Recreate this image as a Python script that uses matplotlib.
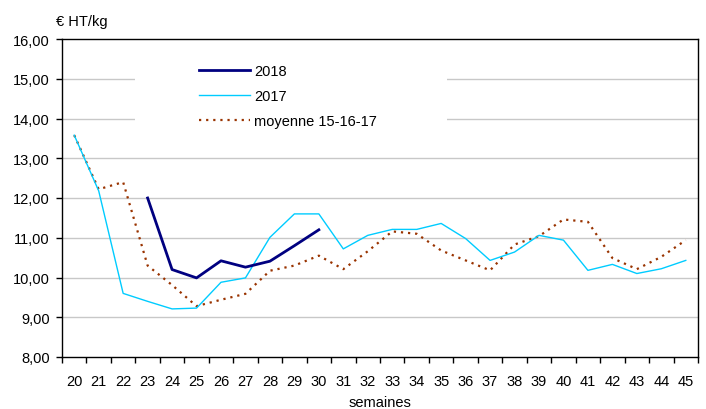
import matplotlib
matplotlib.use("Agg")
import matplotlib.pyplot as plt
import numpy as np
from matplotlib.patches import Rectangle

plt.rcParams["font.family"] = "Liberation Sans"
plt.rcParams["font.size"] = 10

# ------------------------------------------------------------
# DONNÉES
# ------------------------------------------------------------

semaines = list(range(20, 46))

prix_2017 = [13.58, 12.18, 9.60, 9.40, 9.21, 9.23, 9.88, 9.99, 11.01, 11.60,
             11.60, 10.72, 11.06, 11.21, 11.21, 11.36, 10.98, 10.43, 10.64, 11.06,
             10.94, 10.18, 10.33, 10.10, 10.22, 10.43]

moyenne_15_16_17 = [13.58, 12.22, 12.40, 10.30, 9.81, 9.28, 9.44, 9.59, 10.17, 10.30,
                    10.55, 10.21, 10.66, 11.16, 11.10, 10.68, 10.43, 10.18, 10.83, 11.04,
                    11.46, 11.40, 10.49, 10.21, 10.52, 10.94]

semaines_2018 = list(range(23, 31))
prix_2018 = [12.00, 10.20, 9.99, 10.42, 10.26, 10.41, 10.80, 11.20]

y_ticks = [8, 9, 10, 11, 12, 13, 14, 15, 16]

COLOR_2018 = "#000080"
COLOR_2017 = "#00CCFF"
COLOR_MOY = "#993300"

# ------------------------------------------------------------
# FIGURE
# ------------------------------------------------------------

fig = plt.figure(figsize=(7.06, 4.10), dpi=100)
ax = fig.add_axes([62 / 706, 1 - 358 / 410, 636 / 706, 318 / 410])

ax.set_xlim(19.5, 45.5)
ax.set_ylim(8, 16)

# grille horizontale
for v in y_ticks[1:-1]:
    ax.axhline(v, color="#C8C8C8", linewidth=1.0, zorder=0.5)

# fond blanc de la légende (cache la grille)
ax.add_patch(Rectangle((0.115, 0.655), 0.49, 0.33, transform=ax.transAxes,
                       facecolor="white", edgecolor="none", zorder=0.8))

ax.plot(semaines, moyenne_15_16_17, color=COLOR_MOY, linewidth=1.6,
        linestyle=(0, (1, 2.2)), label="moyenne 15-16-17", zorder=2)
ax.plot(semaines, prix_2017, color=COLOR_2017, linewidth=1.0,
        label="2017", zorder=3)
ax.plot(semaines_2018, prix_2018, color=COLOR_2018, linewidth=2.0,
        label="2018", zorder=4)

# axes
ax.set_yticks(y_ticks)
ax.set_yticklabels([f"{v:.2f}".replace(".", ",") for v in y_ticks])
ax.set_xticks(semaines)
ax.set_xticklabels([str(s) for s in semaines])
ax.set_xticks(np.arange(19.5, 46, 1), minor=True)

ax.tick_params(axis="y", direction="out", length=4, width=1, pad=5, labelsize=10.5)
ax.tick_params(axis="x", which="major", length=0, pad=12, labelsize=10.5)
ax.tick_params(axis="x", which="minor", direction="out", length=4, width=1)

for sp in ax.spines.values():
    sp.set_color("black")
    sp.set_linewidth(1.0)

ax.set_xlabel("semaines", fontsize=10.5, labelpad=5)
fig.text(56 / 706, 1 - 22 / 410, "€ HT/kg", ha="left", va="center", fontsize=10.5)

# légende
handles, labels = ax.get_legend_handles_labels()
order = [2, 1, 0]
ax.legend([handles[i] for i in order], [labels[i] for i in order],
          loc="upper left", bbox_to_anchor=(0.216, 0.92),
          frameon=False, fontsize=10.5, handlelength=3.5, handletextpad=0.25,
          labelspacing=0.75, borderpad=0, borderaxespad=0)

plt.savefig("out.png", dpi=100)
plt.close()
